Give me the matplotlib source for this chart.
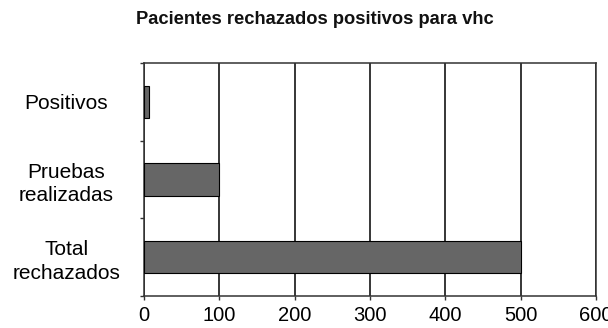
import matplotlib
matplotlib.use("Agg")
import matplotlib.pyplot as plt
from matplotlib.transforms import ScaledTranslation

plt.rcParams['font.family'] = ['Liberation Sans', 'DejaVu Sans']

categories = ["Total\nrechazados", "Pruebas\nrealizadas", "Positivos"]
values = [500, 100, 7]
x_ticks = [0, 100, 200, 300, 400, 500, 600]
title = "Pacientes rechazados positivos para vhc"

fig = plt.figure(figsize=(6.08, 3.28), dpi=100)
ax = fig.add_axes([144 / 608, 32 / 328, 452 / 608, 233 / 328])

pos = list(range(len(categories)))
ax.barh(pos, values, height=0.42, color="#666666", edgecolor="black",
        linewidth=0.8, zorder=3)

ax.set_xlim(0, 600)
ax.set_ylim(-0.5, len(categories) - 0.5)

ax.set_xticks(x_ticks)
ax.set_xticklabels([str(v) for v in x_ticks], fontsize=14.5)
ax.xaxis.grid(True, color="black", linewidth=1.1, zorder=0)
ax.set_axisbelow(True)

ax.set_yticks(pos)
ax.set_yticklabels(categories, fontsize=15, ha="center",
                   multialignment="center", linespacing=1.3)
shift = ScaledTranslation(0, -3 / 72, fig.dpi_scale_trans)
for lbl in ax.get_yticklabels():
    lbl.set_transform(lbl.get_transform() + shift)
ax.set_yticks([p - 0.5 for p in pos] + [len(categories) - 0.5], minor=True)
ax.tick_params(axis="y", which="major", length=0, pad=56)
ax.tick_params(axis="y", which="minor", length=3, width=1, color="#333333")
ax.tick_params(axis="x", length=3, width=1, color="#333333", pad=4)

for s in ["left", "bottom", "top", "right"]:
    ax.spines[s].set_color("#333333")
    ax.spines[s].set_linewidth(1.1)

fig.text(315 / 608, 1 - 19 / 328, title, ha="center", va="center",
         fontsize=13.2, fontweight="bold", color="#111111")

fig.savefig("out.png", dpi=100)
